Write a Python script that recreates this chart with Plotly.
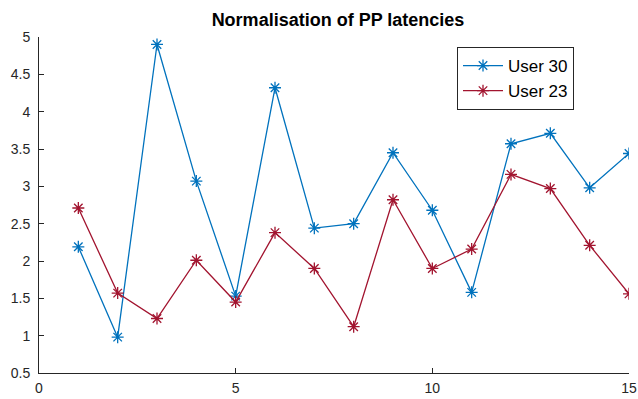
import plotly.graph_objects as go

x_vals = list(range(1, 16))
user30 = [2.19, 0.98, 4.9, 3.07, 1.53, 4.32, 2.44, 2.5, 3.45, 2.68, 1.58, 3.57, 3.71, 2.98, 3.44]
user23 = [2.71, 1.57, 1.23, 2.01, 1.45, 2.38, 1.9, 1.12, 2.82, 1.9, 2.16, 3.16, 2.97, 2.21, 1.56]
series_names = ["User 30", "User 23"]
colors = ["#0072BD", "#A2142F"]

fig = go.Figure()
for name, vals, c in zip(series_names, [user30, user23], colors):
    fig.add_trace(go.Scatter(
        x=x_vals, y=vals, name=name, mode="lines+markers",
        line=dict(color=c, width=1.3),
        marker=dict(symbol="asterisk-open", size=10, color=c, line=dict(color=c, width=1.3)),
    ))

axis_common = dict(
    showline=True, linecolor="#262626", linewidth=1,
    ticks="inside", ticklen=5, tickcolor="#262626",
    showgrid=False, zeroline=False, mirror=False, automargin=False,
    tickfont=dict(family="Liberation Sans, Arial", size=14, color="#262626"),
)
fig.update_xaxes(range=[0, 15], tickvals=[0, 5, 10, 15], ticklabelstandoff=2, **axis_common)
fig.update_yaxes(range=[0.5, 5], tickvals=[0.5, 1, 1.5, 2, 2.5, 3, 3.5, 4, 4.5, 5], ticklabelstandoff=5, **axis_common)

fig.update_layout(
    width=638, height=399,
    margin=dict(l=39, r=9, t=37, b=26),
    paper_bgcolor="white", plot_bgcolor="white",
    title=dict(text="<b>Normalisation of PP latencies</b>", x=338 / 638, xanchor="center",
               y=1 - 20 / 399, yanchor="middle",
               font=dict(family="Liberation Sans, Arial", size=18, color="black")),
    legend=dict(x=(457 - 39) / 590, y=1 - (47 - 37) / 336, xanchor="left", yanchor="top",
                bordercolor="#262626", borderwidth=1, bgcolor="white",
                font=dict(family="Liberation Sans, Arial", size=17, color="black"),
                itemwidth=40, tracegroupgap=0),
    showlegend=True,
)

fig.write_html("out.html")
